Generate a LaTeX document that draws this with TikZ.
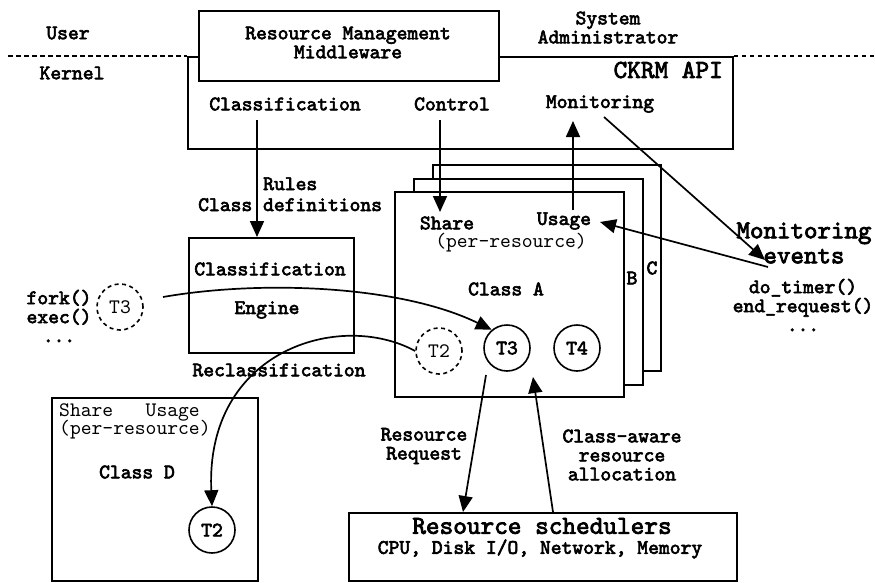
\documentclass[tikz,border=0pt]{standalone}
\usepackage{fontspec}
\setmainfont{lmmono10-regular}[Extension=.otf, BoldFont=lmmono10-regular, BoldFeatures={FakeBold=3}]
\usetikzlibrary{arrows.meta}

\begin{document}
\begin{tikzpicture}[x=1pt,y=-1pt,
  every node/.style={font=\bfseries\fontsize{20.6}{19}\selectfont, inner sep=0pt, align=center},
  big/.style={font=\bfseries\fontsize{26}{22}\selectfont},
  plain/.style={font=\fontsize{20.6}{19}\selectfont},
  box/.style={draw, line width=1.8pt, anchor=north west},
  task/.style={draw, circle, minimum size=46pt, line width=1.6pt},
  ghost/.style={task, dash pattern=on 4pt off 3.5pt, font=\fontsize{20.6}{19}\selectfont},
  arr/.style={-{Triangle[length=16pt,width=14pt]}, line width=1.7pt},
  sep/.style={dash pattern=on 4.5pt off 3.5pt, line width=1.6pt}
]
\useasboundingbox (0,0) rectangle (875,582);

% user / kernel boundary
\node[box, minimum width=545pt, minimum height=92pt] (ckrm) at (187,56) {};
\node[box, fill=white, minimum width=300pt, minimum height=70pt] (mw) at (198,10) {};
\node (mwt) at (348,42.5) {Resource Management\\Middleware};
\coordinate (sepL) at (8,56);
\coordinate (sepR) at (875,56);
\draw[sep] (sepL) -- (ckrm.north west);
\draw[sep] (ckrm.north east) -- (sepR);
\node (user) at (68,33) {User};
\node (kernel) at (72,73) {Kernel};
\node (admin) at (608,27.5) {System\\Administrator};

% CKRM API contents
\node[big, anchor=east] (api) at (723,70) {CKRM API};
\node (cls) at (285,104) {Classification};
\node (ctl) at (452,104) {Control};
\node (mon) at (600,104) {Monitoring};

% classification engine
\node[box, minimum width=165pt, minimum height=115pt] (engine) at (188,237) {};
\node (engt1) at (270,269) {Classification};
\node (engt2) at (267,310) {Engine};
\node (recls) at (279,370) {Reclassification};
\node[anchor=base west] (rules) at (263,190) {Rules};
\node[anchor=base west] (cdef) at (198,211) {Class definitions};

% stacked classes C, B, A
\node[box, fill=white, minimum width=228pt, minimum height=206pt] (clsC) at (432,164) {};
\node[box, fill=white, minimum width=229pt, minimum height=206pt] (clsB) at (413,178) {};
\node[box, fill=white, minimum width=229pt, minimum height=205pt] (clsA) at (394,191) {};
\node (lblB) at (632,278) {B};
\node (lblC) at (652,268) {C};
\node (shareA) at (447,223) {Share};
\node (usageA) at (564,221) {Usage};
\node[plain] (perA) at (511,243) {(per-resource)};
\node (nameA) at (506,289) {Class A};

% tasks
\node[ghost] (t3g) at (120,307) {T3};
\node[task] (t3) at (507,348) {T3};
\node[task] (t4) at (577,348) {T4};
\node[ghost] (t2g) at (439,351) {T2};
\node (calls) at (59,316) {fork()\\exec()\\...};

% class D
\node[box, minimum width=206pt, minimum height=183pt] (clsD) at (51,397) {};
\node[plain, anchor=west] (shareD) at (59,412) {Share~~~Usage};
\node[plain, anchor=west] (perD) at (59,430) {(per-resource)};
\node (nameD) at (137,472) {Class D};
\node[task] (t2) at (212,530) {T2};

% schedulers
\node[box, minimum width=388pt, minimum height=68pt] (sched) at (348,512) {};
\node[big] (schedt) at (542,526) {Resource schedulers};
\node (res) at (540,549) {CPU, Disk I/O, Network, Memory};
\node (req) at (424,446) {Resource\\Request};
\node (alloc) at (622,455) {Class-aware\\resource\\allocation};

% monitoring events
\node[font=\bfseries\fontsize{25.7}{25}\selectfont] (events) at (804,243) {Monitoring\\events};
\node (hooks) at (803,305) {do\_timer()\\end\_request()\\...};

% connectors
\coordinate (clsFrom) at (257,120);
\draw[arr] (clsFrom) -- (clsFrom |- engine.north);
\coordinate (ctlFrom) at (440,120);
\coordinate (ctlTo) at (440,212);
\draw[arr] (ctlFrom) -- (ctlTo);
\coordinate (useFrom) at (573,210);
\coordinate (useTo) at (573,121);
\draw[arr] (useFrom) -- (useTo);
\coordinate (monFrom) at (604,117);
\coordinate (monTo) at (765,260);
\draw[arr] (monFrom) -- (monTo);
\coordinate (evFrom) at (768,267);
\coordinate (evTo) at (600,222);
\draw[arr] (evFrom) -- (evTo);
\coordinate (forkFrom) at (163,297);
\draw[arr] (forkFrom) .. controls (260,280) and (400,285) .. (t3.130);
\draw[arr] (t2g.west) .. controls (340,310) and (205,350) .. (t2.north);
\coordinate (reqFrom) at (486,375);
\coordinate (reqTo) at (463,512);
\draw[arr] (reqFrom) -- (reqTo);
\coordinate (allocFrom) at (553,512);
\coordinate (allocTo) at (533,377);
\draw[arr] (allocFrom) -- (allocTo);
\end{tikzpicture}
\end{document}
